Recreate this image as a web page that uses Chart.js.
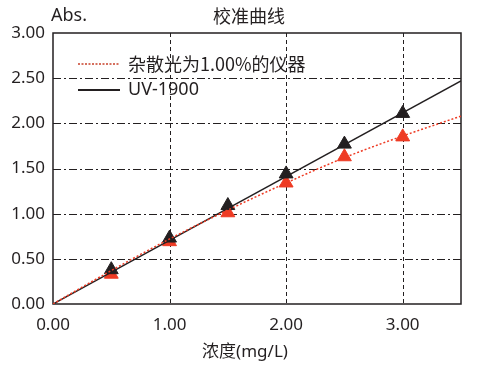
<!DOCTYPE html>
<html>
<head>
<meta charset="utf-8">
<script src="https://cdn.jsdelivr.net/npm/chart.js@4"></script>
<style>
  html, body { margin: 0; padding: 0; background: #fff; }
  #wrap { width: 482px; height: 369px; }
</style>
</head>
<body>
<div id="wrap"><canvas id="calibChart" width="482" height="369"></canvas></div>
<script>
// 校准曲线 data
const concentrations = [0.5, 1.0, 1.5, 2.0, 2.5, 3.0];
const uv1900Abs = [0.38, 0.73, 1.09, 1.44, 1.77, 2.11];
const strayAbs = [0.33, 0.69, 1.01, 1.34, 1.63, 1.85];
const uv1900FitX = [0, 3.5];
const uv1900FitY = [0, 2.47];
const strayFitX = [0, 0.5, 1.0, 1.5, 2.0, 2.5, 3.0, 3.5];
const strayFitY = [0, 0.37, 0.72, 1.04, 1.34, 1.62, 1.86, 2.08];
const xTicks = [0, 1, 2, 3];
const yTicks = [0, 0.5, 1, 1.5, 2, 2.5, 3];
const seriesNames = ['杂散光为1.00%的仪器', 'UV-1900'];

const INK = '#231f20';
const RED = '#ee3b24';
const FONT = '"Noto Sans", "Noto Sans CJK SC", sans-serif';
const CJK = '"Noto Sans CJK SC", sans-serif';

function toPoints(xs, ys) {
    return xs.map(function(x, i) { return { x: x, y: ys[i] }; });
}

// titles + legend drawn on top
const textPlugin = {
    id: 'textPlugin',
    afterDraw: function(chart) {
        const ctx = chart.ctx;
        const area = chart.chartArea;
        ctx.save();
        ctx.fillStyle = INK;
        ctx.textBaseline = 'middle';
        ctx.font = '18px ' + FONT;
        ctx.textAlign = 'left';
        ctx.fillText('Abs.', 51, 16);
        ctx.textAlign = 'center';
        ctx.font = '18px ' + CJK;
        ctx.fillText('校准曲线', 249, 16);
        ctx.font = '17px ' + FONT;
        ctx.fillText('浓度(mg/L)', 245, 352);

        // legend
        const lx = area.left + 25, ly1 = 64, ly2 = 90;
        ctx.lineWidth = 1.5;
        ctx.strokeStyle = '#c8402a';
        ctx.setLineDash([2, 1.5]);
        ctx.beginPath(); ctx.moveTo(lx, ly1); ctx.lineTo(lx + 42, ly1); ctx.stroke();
        ctx.strokeStyle = INK;
        ctx.lineWidth = 2;
        ctx.setLineDash([]);
        ctx.beginPath(); ctx.moveTo(lx, ly2); ctx.lineTo(lx + 42, ly2); ctx.stroke();
        ctx.textAlign = 'left';
        ctx.fillStyle = INK;
        ctx.font = '18px ' + CJK;
        ctx.fillText(seriesNames[0], lx + 50, ly1);
        ctx.font = '18px ' + FONT;
        ctx.fillText(seriesNames[1], lx + 50, ly2);
        ctx.restore();
    }
};

// dashed vertical / dash-dot horizontal grid, solid frame
const gridPlugin = {
    id: 'gridPlugin',
    beforeDatasetsDraw: function(chart) {
        const ctx = chart.ctx;
        const area = chart.chartArea;
        const xs = chart.scales.x, ys = chart.scales.y;
        ctx.save();
        ctx.strokeStyle = INK;
        ctx.lineWidth = 1;
        ctx.setLineDash([8, 3, 2, 3]);
        yTicks.forEach(function(v) {
            if (v <= 0 || v >= 3) return;
            const py = Math.round(ys.getPixelForValue(v)) + 0.5;
            ctx.beginPath(); ctx.moveTo(area.left, py); ctx.lineTo(area.right, py); ctx.stroke();
        });
        ctx.setLineDash([4, 3]);
        xTicks.forEach(function(v) {
            if (v <= 0) return;
            const px = Math.round(xs.getPixelForValue(v)) + 0.5;
            ctx.beginPath(); ctx.moveTo(px, area.top); ctx.lineTo(px, area.bottom); ctx.stroke();
        });
        ctx.setLineDash([]);
        ctx.lineWidth = 1.5;
        ctx.strokeRect(area.left, area.top, area.right - area.left, area.bottom - area.top);
        ctx.restore();
    }
};

const config = {
    type: 'scatter',
    data: {
        datasets: [{
            label: seriesNames[0] + ' fit',
            data: toPoints(strayFitX, strayFitY),
            showLine: true,
            borderColor: RED,
            borderWidth: 1.5,
            borderDash: [2, 2],
            cubicInterpolationMode: 'monotone',
            pointRadius: 0
        }, {
            label: seriesNames[1] + ' fit',
            data: toPoints(uv1900FitX, uv1900FitY),
            showLine: true,
            borderColor: INK,
            borderWidth: 1.5,
            pointRadius: 0
        }, {
            label: seriesNames[1],
            data: toPoints(concentrations, uv1900Abs),
            pointStyle: 'triangle',
            pointRadius: 8,
            backgroundColor: INK,
            borderColor: INK,
            borderWidth: 1
        }, {
            label: seriesNames[0],
            data: toPoints(concentrations, strayAbs),
            pointStyle: 'triangle',
            pointRadius: 8,
            backgroundColor: RED,
            borderColor: RED,
            borderWidth: 1
        }]
    },
    options: {
        responsive: false,
        animation: false,
        layout: { padding: { top: 33, right: 21, left: 0, bottom: 0 } },
        plugins: {
            legend: { display: false },
            tooltip: { enabled: false }
        },
        scales: {
            x: {
                type: 'linear',
                min: 0,
                max: 3.5,
                afterBuildTicks: function(axis) {
                    axis.ticks = xTicks.map(function(v) { return { value: v }; });
                },
                afterFit: function(axis) { axis.height = 65; },
                grid: { display: false, drawTicks: false },
                border: { display: false },
                ticks: {
                    padding: 11,
                    color: INK,
                    font: { family: FONT, size: 17 },
                    callback: function(v) { return v.toFixed(2); }
                }
            },
            y: {
                type: 'linear',
                min: 0,
                max: 3,
                afterBuildTicks: function(axis) {
                    axis.ticks = yTicks.map(function(v) { return { value: v }; });
                },
                afterFit: function(axis) { axis.width = 53; },
                grid: { display: false, drawTicks: false },
                border: { display: false },
                ticks: {
                    padding: 8,
                    color: INK,
                    font: { family: FONT, size: 17 },
                    callback: function(v) { return v.toFixed(2); }
                }
            }
        }
    },
    plugins: [gridPlugin, textPlugin]
};

const myChart = new Chart(document.getElementById('calibChart'), config);
</script>
</body>
</html>
